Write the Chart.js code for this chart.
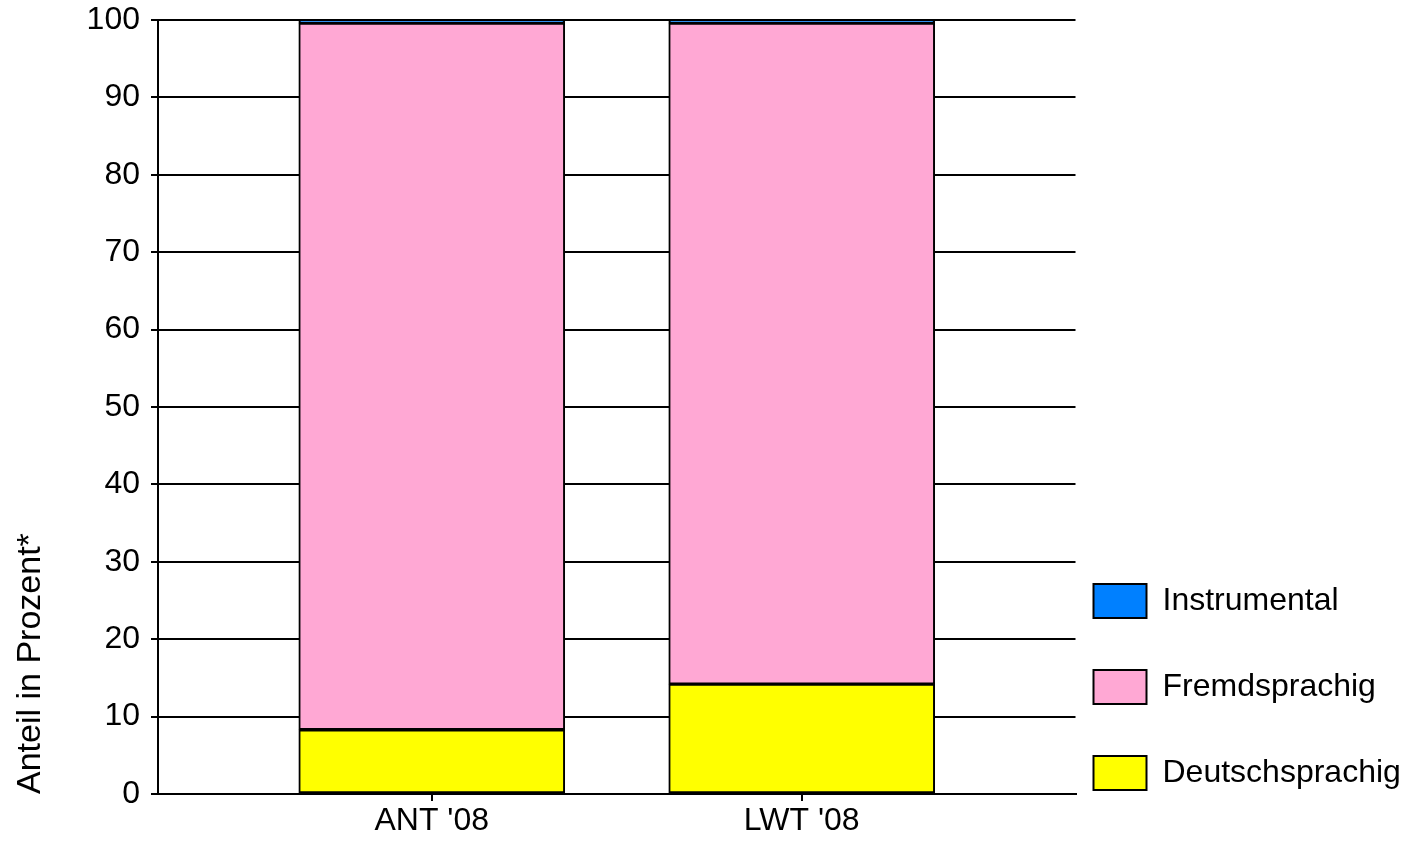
<!DOCTYPE html>
<html>
<head>
<meta charset="utf-8">
<script src="https://cdn.jsdelivr.net/npm/chart.js@4"></script>
<style>
  html, body { margin: 0; padding: 0; background: #fff; }
  #wrap { width: 1409px; height: 842px; }
</style>
</head>
<body>
<div id="wrap"><canvas id="myChart"></canvas></div>
<script>
const categories = ["ANT '08", "LWT '08"];
const deutschsprachig = [8.3, 14.2];
const fremdsprachig = [91.3, 85.4];
const instrumental = [0.4, 0.4];
const yTicks = [0, 10, 20, 30, 40, 50, 60, 70, 80, 90, 100];

const font = { family: "'Liberation Sans', Arial, sans-serif", size: 32 };

function toPoints(values) {
    return values.map((v, i) => ({ x: i + 1, y: v }));
}

// pull the legend closer to the plot, keeps the large item spacing
const legendShift = {
    id: 'legendShift',
    afterLayout(chart) {
        chart.legend.left -= 34;
        chart.legend.right -= 34;
    }
};

document.addEventListener('DOMContentLoaded', function () {
    Chart.defaults.font.family = font.family;
    Chart.defaults.color = '#000';
    const ctx = document.getElementById('myChart').getContext('2d');
    new Chart(ctx, {
        type: 'bar',
        data: {
            datasets: [
                { label: 'Deutschsprachig', data: toPoints(deutschsprachig), backgroundColor: '#ffff00' },
                { label: 'Fremdsprachig', data: toPoints(fremdsprachig), backgroundColor: '#ffa8d4' },
                { label: 'Instrumental', data: toPoints(instrumental), backgroundColor: '#0080ff' }
            ].map(d => Object.assign(d, {
                borderColor: '#000',
                borderWidth: 2,
                borderSkipped: false,
                barThickness: 266
            }))
        },
        options: {
            responsive: true,
            maintainAspectRatio: false,
            animation: false,
            layout: { padding: { top: 20, right: -25, bottom: 0, left: 0 } },
            plugins: {
                tooltip: { enabled: false },
                legend: {
                    position: 'right',
                    align: 'end',
                    reverse: true,
                    labels: {
                        boxWidth: 53,
                        boxHeight: 34,
                        padding: 52,
                        color: '#000',
                        font: font
                    }
                }
            },
            scales: {
                x: {
                    type: 'linear',
                    stacked: true,
                    offset: false,
                    min: 0.26,
                    max: 2.74,
                    afterBuildTicks: (scale) => {
                        scale.ticks = categories.map((c, i) => ({ value: i + 1 }));
                    },
                    afterFit: (scale) => { scale.height = 48; },
                    ticks: {
                        color: '#000',
                        font: font,
                        padding: 1,
                        callback: (value) => categories[value - 1]
                    },
                    grid: {
                        offset: false,
                        drawOnChartArea: false,
                        drawTicks: true,
                        tickLength: 7,
                        tickColor: '#000',
                        lineWidth: 2
                    },
                    border: { display: true, color: '#000', width: 2 }
                },
                y: {
                    stacked: true,
                    min: 0,
                    max: 100,
                    afterBuildTicks: (scale) => {
                        scale.ticks = yTicks.map(v => ({ value: v }));
                    },
                    afterFit: (scale) => {
                        scale.width = 158;
                        scale.paddingTop = 0;
                        scale.paddingBottom = 0;
                    },
                    ticks: {
                        color: '#000',
                        font: font,
                        padding: 11
                    },
                    grid: {
                        color: '#000',
                        lineWidth: 2,
                        tickLength: 7,
                        tickColor: '#000'
                    },
                    border: { display: true, color: '#000', width: 2 },
                    title: {
                        display: true,
                        text: 'Anteil in Prozent*',
                        align: 'start',
                        color: '#000',
                        font: { family: font.family, size: 34 },
                        padding: { top: 10, bottom: 0 }
                    }
                }
            }
        },
        plugins: [legendShift]
    });
});
</script>
</body>
</html>
